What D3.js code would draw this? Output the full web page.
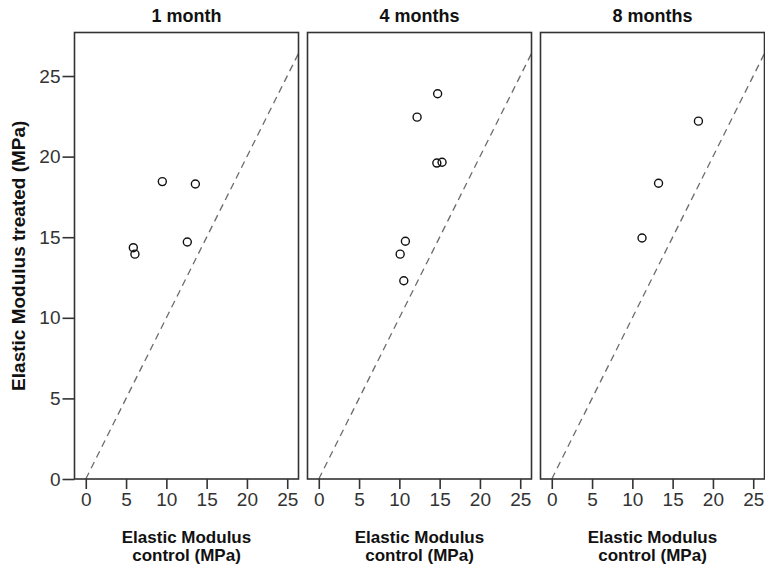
<!DOCTYPE html>
<html>
<head>
<meta charset="utf-8">
<script src="https://cdn.jsdelivr.net/npm/d3@7/dist/d3.min.js"></script>
<style>
  html, body { margin: 0; padding: 0; background: #fff; }
  svg { display: block; }
  text { font-family: "Liberation Sans", Arial, sans-serif; }
</style>
</head>
<body>
<svg id="chart" width="765" height="567"></svg>
<script>
// Panels: time since treatment
const panelTitles = ["1 month", "4 months", "8 months"];

// Elastic modulus (MPa) of control vs. treated specimens, one array per panel
const controlMonth1 = [5.9, 6.1, 9.5, 13.6, 12.6];
const treatedMonth1 = [14.35, 13.95, 18.45, 18.3, 14.7];

const controlMonth4 = [14.75, 12.2, 14.65, 15.3, 10.75, 10.1, 10.55];
const treatedMonth4 = [23.9, 22.45, 19.6, 19.65, 14.75, 13.95, 12.3];

const controlMonth8 = [18.2, 13.25, 11.2];
const treatedMonth8 = [22.2, 18.35, 14.95];

const xTicks = [0, 5, 10, 15, 20, 25];
const yTicks = [0, 5, 10, 15, 20, 25];

const panels = [
  { title: panelTitles[0], x: controlMonth1, y: treatedMonth1 },
  { title: panelTitles[1], x: controlMonth4, y: treatedMonth4 },
  { title: panelTitles[2], x: controlMonth8, y: treatedMonth8 }
];

const svg = d3.select("#chart");
const panelW = 224, gap = 9, left0 = 74.5;
const plotTop = 32.5, plotBottom = 479;
const fontFamily = "'Liberation Sans', Arial, sans-serif";

const y = d3.scaleLinear().domain([0, 27.7]).range([plotBottom, plotTop]);

panels.forEach((p, i) => {
  const x0 = left0 + i * (panelW + gap);
  const x = d3.scaleLinear().domain([-1.4, 26.4]).range([x0, x0 + panelW]);
  const g = svg.append("g");

  // identity reference line y = x
  const lim = 26.4;
  g.append("line")
    .attr("x1", x(0)).attr("y1", y(0))
    .attr("x2", x(lim)).attr("y2", y(lim))
    .attr("stroke", "#6a6a6a").attr("stroke-width", 1.3)
    .attr("stroke-dasharray", "7,5");

  // data points
  g.selectAll("circle").data(p.x.map((v, j) => [v, p.y[j]]))
    .enter().append("circle")
    .attr("cx", d => x(d[0])).attr("cy", d => y(d[1]))
    .attr("r", 4)
    .attr("fill", "none").attr("stroke", "#111").attr("stroke-width", 1.4);

  // frame
  g.append("rect")
    .attr("x", x0).attr("y", plotTop)
    .attr("width", panelW).attr("height", plotBottom - plotTop)
    .attr("fill", "none").attr("stroke", "#333").attr("stroke-width", 1.6);

  // x axis
  const xa = g.append("g")
    .attr("transform", `translate(0,${plotBottom})`)
    .call(d3.axisBottom(x).tickValues(xTicks).tickSize(10).tickPadding(4));
  xa.select(".domain").remove();
  xa.selectAll(".tick line").attr("stroke", "#333").attr("stroke-width", 1.6);
  xa.selectAll(".tick text")
    .attr("fill", "#333").style("font-size", "19px")
    .style("font-family", fontFamily);

  // panel title
  g.append("text")
    .attr("x", x0 + panelW / 2).attr("y", 22)
    .attr("text-anchor", "middle")
    .style("font-size", "18px").style("font-weight", "bold")
    .attr("fill", "#111")
    .text(p.title);

  // x axis title, two lines
  const cx = x0 + panelW / 2;
  g.append("text")
    .attr("x", cx).attr("y", 542.5)
    .attr("text-anchor", "middle")
    .style("font-size", "17px").style("font-weight", "bold")
    .attr("fill", "#111")
    .text("Elastic Modulus");
  g.append("text")
    .attr("x", cx).attr("y", 561)
    .attr("text-anchor", "middle")
    .style("font-size", "17px").style("font-weight", "bold")
    .attr("fill", "#111")
    .text("control (MPa)");

  // y axis only on the first panel
  if (i === 0) {
    const ya = g.append("g")
      .attr("transform", `translate(${x0},0)`)
      .call(d3.axisLeft(y).tickValues(yTicks).tickSize(12).tickPadding(2));
    ya.select(".domain").remove();
    ya.selectAll(".tick line").attr("stroke", "#333").attr("stroke-width", 1.6);
    ya.selectAll(".tick text")
      .attr("fill", "#333").style("font-size", "19px")
      .style("font-family", fontFamily);
  }
});

// y axis title
svg.append("text")
  .attr("transform", `translate(25,${(plotTop + plotBottom) / 2}) rotate(-90)`)
  .attr("text-anchor", "middle")
  .style("font-size", "19px").style("font-weight", "bold")
  .attr("fill", "#111")
  .text("Elastic Modulus treated (MPa)");
</script>
</body>
</html>
